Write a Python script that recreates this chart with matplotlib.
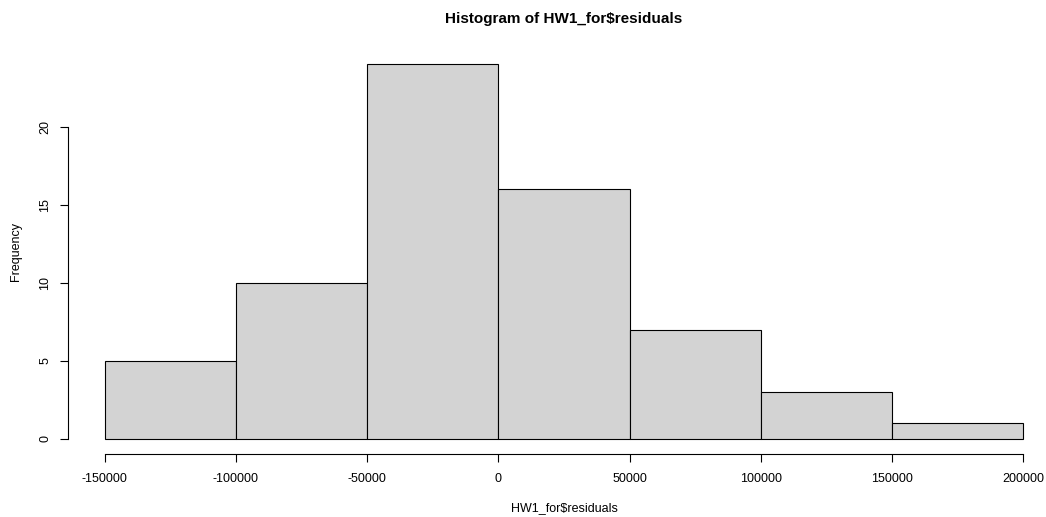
import matplotlib
matplotlib.use("Agg")
import matplotlib.pyplot as plt

breaks = [-150000, -100000, -50000, 0, 50000, 100000, 150000, 200000]
counts = [5, 10, 24, 16, 7, 3, 1]
xticks = [-150000, -100000, -50000, 0, 50000, 100000, 150000, 200000]
yticks = [0, 5, 10, 15, 20]

plt.rcParams['font.family'] = ['Liberation Sans', 'DejaVu Sans']

W, H = 1046, 517
fig = plt.figure(figsize=(W / 100, H / 100), dpi=100)
left, right, top, bottom = 68, 1060, 49, 454
ax = fig.add_axes([left / W, 1 - bottom / H, (right - left) / W, (bottom - top) / H])

xspan = breaks[-1] - breaks[0]
ax.set_xlim(breaks[0] - 0.04 * xspan, breaks[-1] + 0.04 * xspan)
ymax = max(counts)
ax.set_ylim(-0.04 * ymax, ymax * 1.04)

widths = [breaks[i + 1] - breaks[i] for i in range(len(counts))]
ax.bar(breaks[:-1], counts, width=widths, align='edge', color='#D3D3D3',
       edgecolor='black', linewidth=0.8)

for s in ['top', 'right']:
    ax.spines[s].set_visible(False)
ax.spines['bottom'].set_bounds(xticks[0], xticks[-1])
ax.spines['left'].set_bounds(yticks[0], yticks[-1])
ax.spines['bottom'].set_linewidth(0.8)
ax.spines['left'].set_linewidth(0.8)

ax.set_xticks(xticks)
ax.set_xticklabels([str(v) for v in xticks])
ax.set_yticks(yticks)
ax.set_yticklabels([str(v) for v in yticks], rotation=90, va='center')
ax.tick_params(axis='both', length=6, width=0.8, labelsize=9, colors='black')
ax.tick_params(axis='x', pad=8)
ax.tick_params(axis='y', pad=6)

fig.text(564 / W, 1 - 19 / H, 'Histogram of HW1_for$residuals', ha='center', va='center',
         fontsize=11, fontweight='bold')
fig.text(564 / W, 1 - 508 / H, 'HW1_for$residuals', ha='center', va='center', fontsize=9)
fig.text(16 / W, 1 - 251 / H, 'Frequency', ha='center', va='center', rotation=90, fontsize=9)

fig.savefig('out.png', dpi=100)
